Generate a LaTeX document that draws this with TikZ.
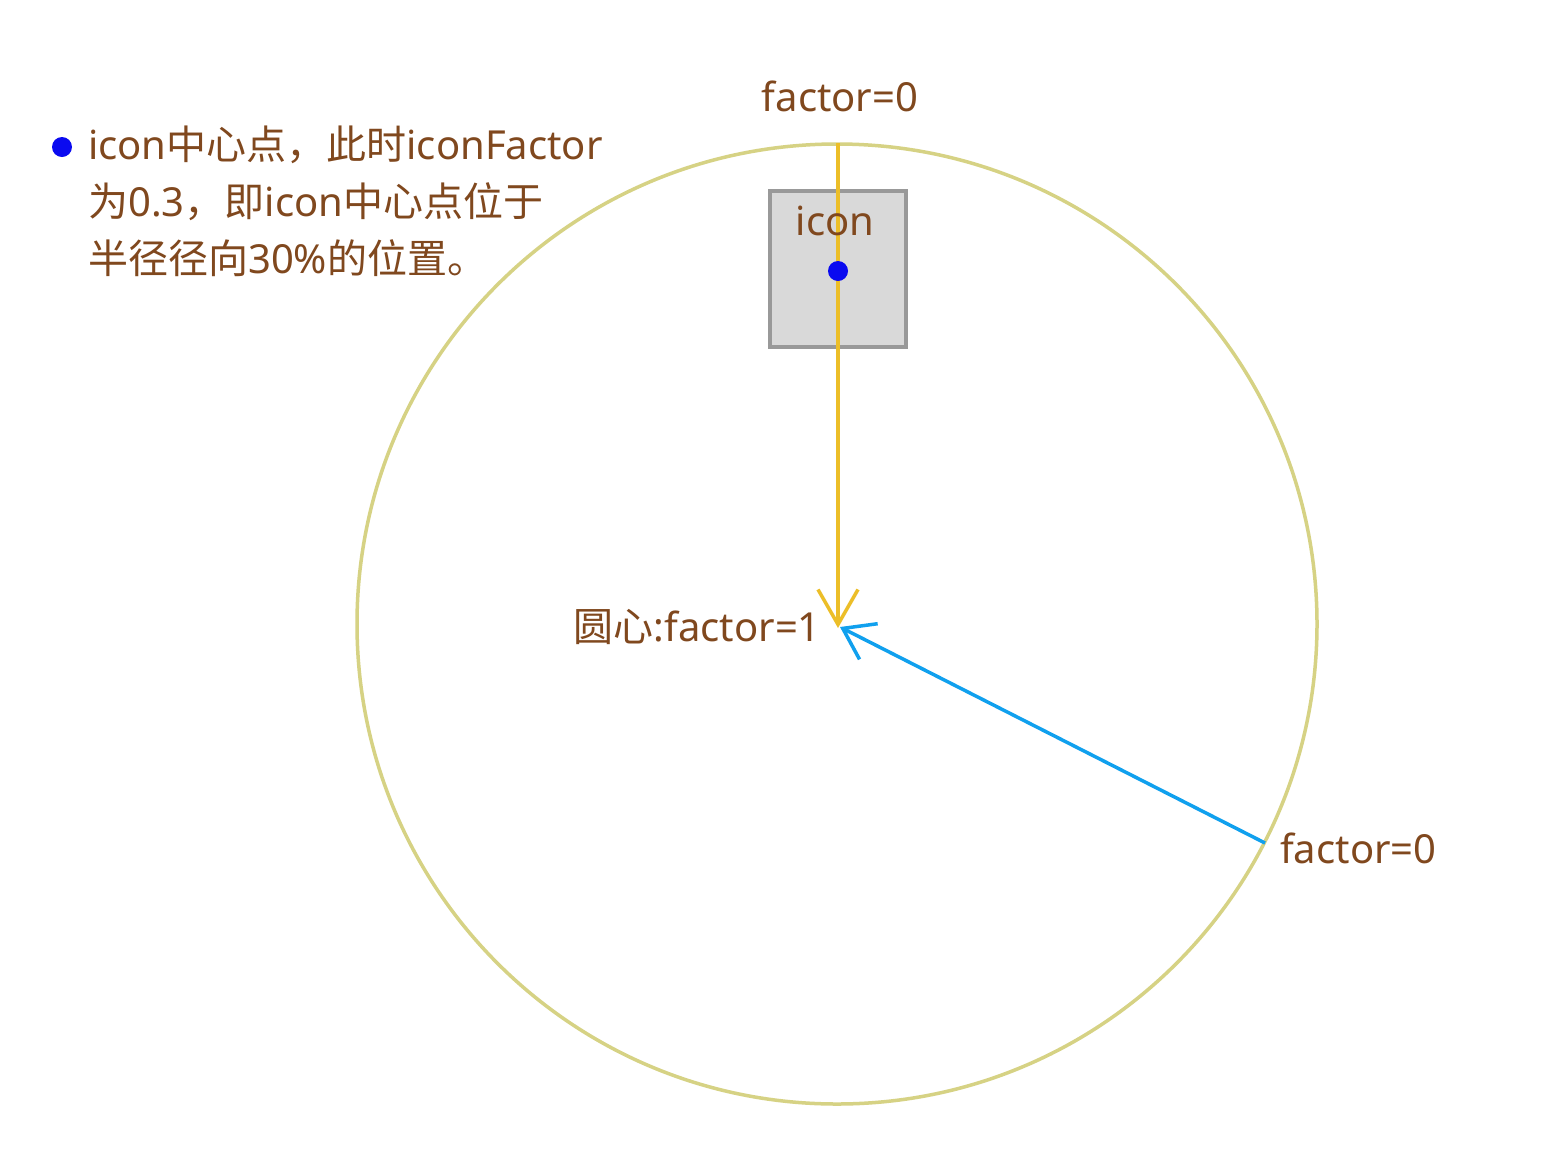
\documentclass[tikz,border=0pt]{standalone}
\usepackage{fontspec}
\setmainfont{Noto Sans}
\newfontfamily\cjk{Noto Sans CJK SC}
\usetikzlibrary{arrows.meta}
\definecolor{txtbrown}{RGB}{128,72,30}
\definecolor{ringcol}{RGB}{214,210,132}
\definecolor{yarrow}{RGB}{236,190,40}
\definecolor{barrow}{RGB}{16,160,238}
\definecolor{boxfill}{RGB}{217,217,217}
\definecolor{boxline}{RGB}{153,153,153}
\definecolor{dotblue}{RGB}{10,10,240}
\tikzset{
  lbl/.style={text=txtbrown, font=\fontsize{40}{57}\selectfont, inner sep=0pt},
  ring/.style={draw=ringcol, line width=3.5pt},
  iconbox/.style={draw=boxline, fill=boxfill, line width=3.5pt, minimum width=136pt, minimum height=156pt, inner sep=0pt},
  yarr/.style={draw=yarrow, line width=3.5pt, -{Straight Barb[length=35pt,width=40pt,line width=3.5pt]}},
  barr/.style={draw=barrow, line width=3.5pt, -{Straight Barb[length=29pt,width=40pt,line width=3.5pt]}},
  bdot/.style={circle, fill=dotblue, inner sep=0pt, minimum size=20pt}
}
\begin{document}
\begin{tikzpicture}[x=1pt,y=-1pt]
\useasboundingbox (0,0) rectangle (1568,1160);
\fill[white] (0,0) rectangle (1568,1160);
% circle
\coordinate (c) at (837,624);
\draw[ring] (c) circle[radius=480];
% icon box
\node[iconbox] (box) at (838,269) {};
% points
\coordinate (top) at (838,143);
\coordinate (tipY) at (838,628);
\coordinate (tipB) at (840,627);
\coordinate (rim) at (1265,843);
\draw[yarr] (top) -- (tipY);
\draw[barr] (rim) -- (tipB);
\node[lbl] (icontxt) at (835,221) {icon};
\node[bdot] (idot) at (838,271) {};
% labels
\node[lbl] (ftop) at (840,96) {factor=0};
\node[lbl, anchor=east] (fcenter) at (821,627) {{\cjk 圆心}:factor=1};
\node[lbl, anchor=west] (fright) at (1280,848) {factor=0};
% legend
\node[bdot] (ldot) at (62,147) {};
\node[lbl, anchor=west, align=left] (legend) at (88,201) {icon{\cjk 中心点，此时}iconFactor\\{\cjk 为}0.3{\cjk ，即}icon{\cjk 中心点位于}\\{\cjk 半径径向}30\%{\cjk 的位置。}};
\end{tikzpicture}
\end{document}
